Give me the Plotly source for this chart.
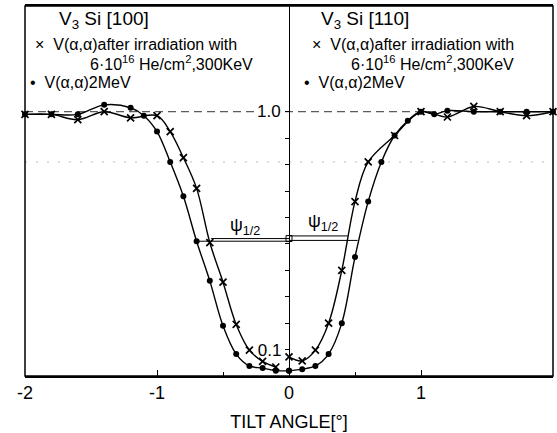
import plotly.graph_objects as go

# ---- data ----
# [100] side (negative tilt angles)
l_x_ang = [-2.0, -1.8, -1.6, -1.4, -1.2, -1.0, -0.9, -0.8, -0.7, -0.6, -0.5, -0.4, -0.3, -0.2, -0.1]
l_x_val = [0.99, 0.99, 0.97, 1.00, 0.977, 0.985, 0.925, 0.826, 0.71, 0.505, 0.355, 0.195, 0.098, 0.055, 0.034]
l_d_ang = [-2.0, -1.8, -1.6, -1.4, -1.2, -1.1, -1.0, -0.9, -0.8, -0.7, -0.6, -0.5, -0.4, -0.3, -0.2, -0.1, 0.0]
l_d_val = [0.99, 0.99, 0.99, 1.026, 1.015, 0.985, 0.925, 0.81, 0.68, 0.51, 0.36, 0.19, 0.083, 0.038, 0.03, 0.02, 0.02]
# [110] side (positive tilt angles)
r_x_ang = [0.0, 0.1, 0.2, 0.3, 0.4, 0.5, 0.6, 0.8, 1.0, 1.2, 1.4, 1.6, 1.8, 2.0]
r_x_val = [0.072, 0.057, 0.098, 0.2, 0.40, 0.66, 0.81, 0.91, 1.0, 0.98, 1.02, 1.0, 0.985, 1.0]
r_d_ang = [0.0, 0.1, 0.2, 0.3, 0.4, 0.5, 0.6, 0.7, 0.8, 0.9, 1.0, 1.1, 1.2, 1.4, 1.6, 1.8, 2.0]
r_d_val = [0.02, 0.026, 0.038, 0.083, 0.2, 0.45, 0.66, 0.81, 0.91, 0.966, 1.0, 0.99, 1.004, 1.0, 1.0, 1.0, 1.0]

# half-width (psi 1/2) markers
psi_lx = [-0.59, 0.0]; psi_lx_y = [0.52, 0.52]
psi_ld = [-0.69, 0.0]; psi_ld_y = [0.51, 0.51]
psi_rx = [0.0, 0.445]; psi_rx_y = [0.53, 0.53]
psi_rd = [0.0, 0.52]; psi_rd_y = [0.513, 0.513]

ref_x = [-2, 2]
ref_y = [1.0, 1.0]
grid_y = [0.81, 0.81]

x_ticks = [-2, -1, 0, 1, 2]
x_tick_text = ["-2", "-1", "0", "1", "2"]
y_ticks = [0.1, 0.2, 0.3, 0.4, 0.5, 0.6, 0.7, 0.8, 0.9, 1.0]
y_tick_text = ["0.1", "", "", "", "", "", "", "", "", ""]

FONT = "Liberation Sans"
BLACK = "black"

fig = go.Figure()

# faint dotted grid line and dashed 1.0 reference
fig.add_trace(go.Scatter(x=ref_x, y=grid_y, mode="lines",
                         line=dict(color="#bbbbbb", width=1, dash="2px,9px"), hoverinfo="skip"))
fig.add_trace(go.Scatter(x=ref_x, y=ref_y, mode="lines",
                         line=dict(color="#333333", width=1, dash="8px,5px"), hoverinfo="skip"))

xm = dict(symbol="x-thin", size=7, line=dict(color=BLACK, width=1.7), color=BLACK)
dm = dict(symbol="circle", size=6, color=BLACK)

for ang, val, mk in [(l_x_ang, l_x_val, xm), (l_d_ang, l_d_val, dm),
                     (r_x_ang, r_x_val, xm), (r_d_ang, r_d_val, dm)]:
    fig.add_trace(go.Scatter(x=ang, y=val, mode="lines+markers",
                             line=dict(color=BLACK, width=1.4, shape="spline", smoothing=1.0),
                             marker=mk, cliponaxis=False))

for px, py in [(psi_lx, psi_lx_y), (psi_ld, psi_ld_y), (psi_rx, psi_rx_y), (psi_rd, psi_rd_y)]:
    fig.add_trace(go.Scatter(x=px, y=py, mode="lines",
                             line=dict(color=BLACK, width=1)))
fig.add_trace(go.Scatter(x=[0.0], y=[0.52], mode="markers",
                         marker=dict(symbol="square-open", size=6, color=BLACK, line=dict(width=1))))

fig.update_layout(
    width=557, height=433,
    margin=dict(l=25, r=4, t=5, b=56),
    paper_bgcolor="white", plot_bgcolor="white",
    showlegend=False,
    font=dict(family=FONT, color=BLACK),
    xaxis=dict(range=[-2, 2], showline=True, linecolor=BLACK, linewidth=1.5, mirror=True,
               ticks="inside", ticklen=6, tickcolor=BLACK, tickwidth=1.3,
               tickvals=x_ticks, ticktext=x_tick_text, tickfont=dict(size=18, family=FONT),
               minor=dict(tickvals=[-0.5, 0.5], ticks="inside", ticklen=4, tickcolor=BLACK),
               showgrid=False, zeroline=False,
               title=dict(text="TILT ANGLE[°]", font=dict(size=18, family=FONT), standoff=13)),
    yaxis=dict(range=[0, 1.4], anchor="free", position=0.5, showline=True,
               linecolor=BLACK, linewidth=1.3, ticks="outside", ticklen=4,
               tickcolor=BLACK, tickvals=y_ticks, ticktext=y_tick_text,
               tickfont=dict(size=17, family=FONT), showgrid=False, zeroline=False),
)

fig.add_shape(type="rect", xref="x domain", yref="y domain", x0=0, x1=1, y0=0, y1=1,
              line=dict(color=BLACK, width=1.5))

fig.add_annotation(x=0, y=1.0, xref="x", yref="y", text="1.0", showarrow=False,
                   xanchor="right", xshift=-7, bgcolor="white", borderpad=0,
                   font=dict(size=17, family=FONT))

def note(x, y, text, size):
    fig.add_annotation(x=x, y=y, xref="paper", yref="paper", text=text, showarrow=False,
                       xanchor="center", yanchor="middle", font=dict(size=size, family=FONT))

# left block ([100])
note(0.149, 0.962, "V<sub>3</sub> Si [100]", 19)
note(0.210, 0.895, "×  V(α,α)after irradiation with", 16)
note(0.2775, 0.847, "6·10<sup>16</sup> He/cm<sup>2</sup>,300KeV", 16)
note(0.106, 0.793, "•  V(α,α)2MeV", 16)
# right block ([110])
note(0.644, 0.962, "V<sub>3</sub> Si [110]", 19)
note(0.734, 0.895, "×  V(α,α)after irradiation with", 16)
note(0.772, 0.847, "6·10<sup>16</sup> He/cm<sup>2</sup>,300KeV", 16)
note(0.624, 0.793, "•  V(α,α)2MeV", 16)

note(0.417, 0.405, "ψ<sub>1/2</sub>", 18)
note(0.565, 0.415, "ψ<sub>1/2</sub>", 18)

fig.write_html("out.html")
